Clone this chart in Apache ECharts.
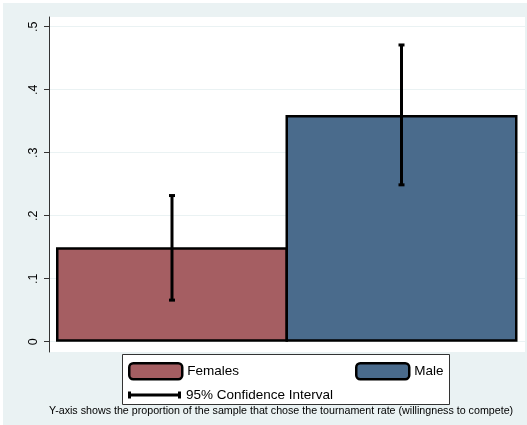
<!DOCTYPE html>
<html>
<head>
<meta charset="utf-8">
<script src="https://cdn.jsdelivr.net/npm/echarts@6/dist/echarts.min.js"></script>
<style>
  html, body { margin: 0; padding: 0; background: #fff; }
  #chart { width: 527px; height: 425px; }
</style>
</head>
<body>
<div id="chart"></div>
<script>
// Share of each group choosing the tournament rate, with 95% confidence intervals
const groups = ['Females', 'Male'];
const femaleShare = [0.15, '-'];
const maleShare = ['-', 0.36];
const ciLow = [0.066, 0.249];
const ciHigh = [0.232, 0.471];
const yTicks = { min: 0, max: 0.5, interval: 0.1 };
const ciName = '95% Confidence Interval';
const note = 'Y-axis shows the proportion of the sample that chose the tournament rate (willingness to compete)';

const FONT = '"Liberation Sans", Arial, Helvetica, sans-serif';
const BG = '#EAF2F3';
const BAR_BORDER = 2.5;

const ciData = groups.map((g, i) => [i, ciLow[i], ciHigh[i]]);

const chart = echarts.init(document.getElementById('chart'), null, { renderer: 'canvas' });

const hiddenCat = { type: 'category', data: groups, show: false };

// bars are a little wider than their band so neighbouring outlines merge into one line
const barGrid = { left: 57.25, right: 10.75, top: 26.7, bottom: 83.3 };
const bandWidth = (527 - barGrid.left - barGrid.right) / groups.length;

chart.setOption({
  backgroundColor: '#fff',
  animation: false,
  textStyle: { fontFamily: FONT },
  graphic: [
    { type: 'rect', z: -20, shape: { x: 3, y: 3, width: 524, height: 422 }, style: { fill: BG } },
    { type: 'rect', z: 1, shape: { x: 122.5, y: 354.5, width: 327, height: 50 },
      style: { fill: '#fff', stroke: '#333', lineWidth: 1 } }
  ],
  title: {
    text: note,
    left: 49,
    top: 406,
    padding: 0,
    textStyle: { fontFamily: FONT, fontSize: 10.7, fontWeight: 'normal', color: '#000' }
  },
  legend: [
    {
      left: 128, top: 362, padding: 0,
      data: ['Females'],
      icon: 'roundRect', itemWidth: 53, itemHeight: 16,
      itemStyle: { borderColor: '#000', borderWidth: 2.5 },
      textStyle: { fontFamily: FONT, fontSize: 13.5, color: '#000' }
    },
    {
      left: 355, top: 362, padding: 0,
      data: ['Male'],
      icon: 'roundRect', itemWidth: 53, itemHeight: 16,
      itemStyle: { borderColor: '#000', borderWidth: 2.5 },
      textStyle: { fontFamily: FONT, fontSize: 13.5, color: '#000' }
    },
    {
      left: 128, top: 388, padding: 0,
      data: [{ name: ciName, icon: 'path://M0,0H3V2H50V0H53V7H50V5H3V7H0Z',
               itemStyle: { color: '#000', borderWidth: 0 } }],
      itemWidth: 53, itemHeight: 7,
      textStyle: { fontFamily: FONT, fontSize: 13.5, color: '#000' }
    }
  ],
  grid: [
    // plot region (white) with the full-height axis line
    { left: 49, right: 2, top: 17, bottom: 73, show: true, backgroundColor: '#fff', borderWidth: 0 },
    // scale: ticks, labels, grid lines
    { left: 49, right: 2, top: 26.7, bottom: 83.3 },
    // bars and interval whiskers
    barGrid
  ],
  xAxis: [
    Object.assign({ gridIndex: 0 }, hiddenCat),
    Object.assign({ gridIndex: 1 }, hiddenCat),
    Object.assign({ gridIndex: 2 }, hiddenCat)
  ],
  yAxis: [
    {
      gridIndex: 0, type: 'value', min: 0, max: 1,
      axisLine: { show: true, lineStyle: { color: '#333', width: 1 } },
      axisTick: { show: false }, axisLabel: { show: false }, splitLine: { show: false }
    },
    {
      gridIndex: 1, type: 'value', min: yTicks.min, max: yTicks.max, interval: yTicks.interval,
      axisLine: { show: false },
      axisTick: { show: true, length: 5, lineStyle: { color: '#333', width: 1 } },
      axisLabel: {
        rotate: 90, margin: 9, fontSize: 12.5, color: '#000', fontFamily: FONT,
        formatter: v => v === 0 ? '0' : v.toFixed(1).replace(/^0/, '')
      },
      splitLine: { show: true, lineStyle: { color: BG, width: 1 } }
    },
    {
      gridIndex: 2, type: 'value', min: yTicks.min, max: yTicks.max, show: false,
      splitLine: { show: false }
    }
  ],
  series: [
    {
      name: 'Females', type: 'bar', xAxisIndex: 2, yAxisIndex: 2,
      data: femaleShare, barGap: '-100%', barWidth: bandWidth + BAR_BORDER,
      itemStyle: { color: '#A55E62', borderColor: '#000', borderWidth: BAR_BORDER }
    },
    {
      name: 'Male', type: 'bar', xAxisIndex: 2, yAxisIndex: 2,
      data: maleShare, barGap: '-100%', barWidth: bandWidth + BAR_BORDER,
      itemStyle: { color: '#4A6B8C', borderColor: '#000', borderWidth: BAR_BORDER }
    },
    {
      name: ciName, type: 'custom', xAxisIndex: 2, yAxisIndex: 2,
      data: ciData,
      encode: { x: 0, y: [1, 2] },
      z: 5,
      renderItem: (params, api) => {
        const cat = api.value(0);
        const lo = api.coord([cat, api.value(1)]);
        const hi = api.coord([cat, api.value(2)]);
        const half = 3;
        return {
          type: 'group',
          children: [
            { type: 'line', shape: { x1: lo[0], y1: lo[1], x2: hi[0], y2: hi[1] },
              style: { stroke: '#000', lineWidth: 3 } },
            { type: 'rect', shape: { x: hi[0] - half, y: hi[1] - 1.5, width: half * 2, height: 3 },
              style: { fill: '#000' } },
            { type: 'rect', shape: { x: lo[0] - half, y: lo[1] - 1.5, width: half * 2, height: 3 },
              style: { fill: '#000' } }
          ]
        };
      }
    }
  ]
});
</script>
</body>
</html>
